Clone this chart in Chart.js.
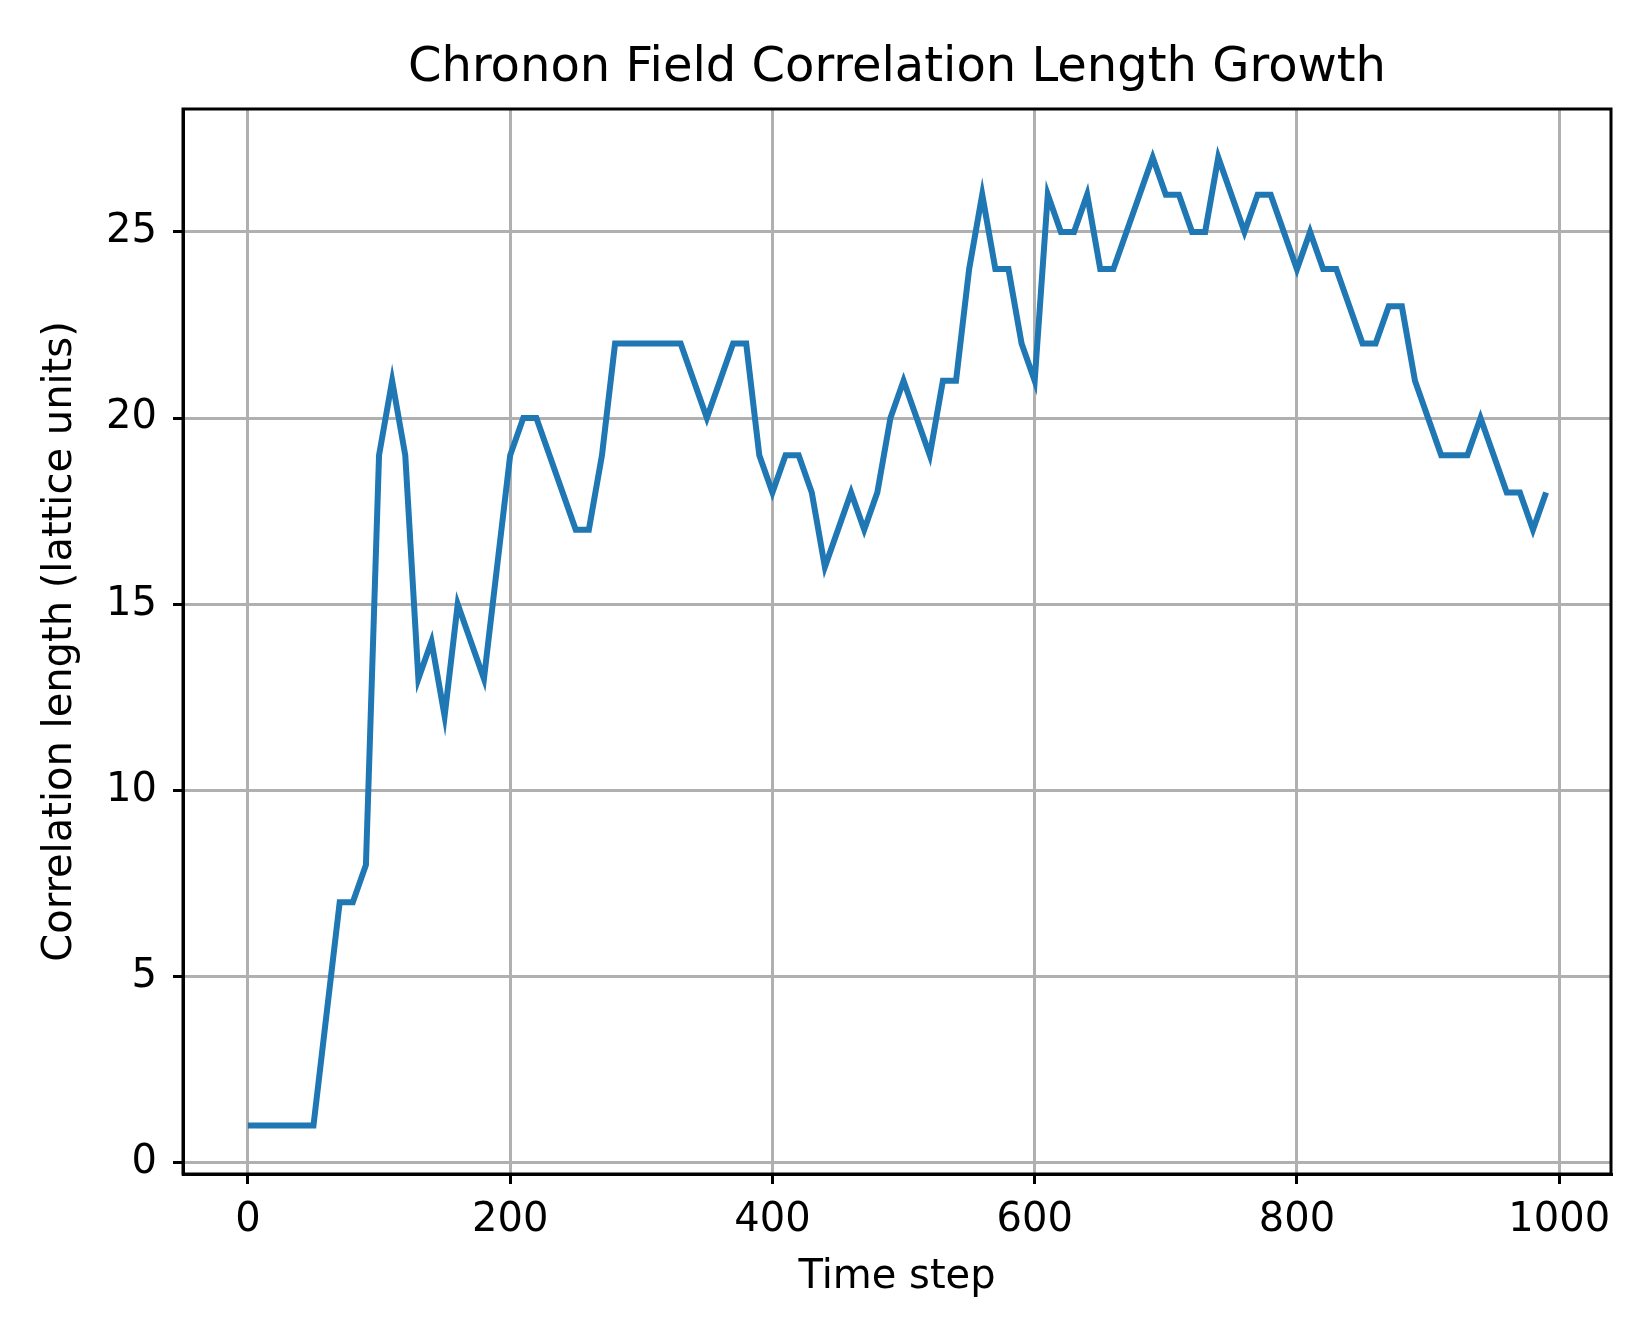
<!DOCTYPE html>
<html>
<head>
<meta charset="utf-8">
<script src="https://cdn.jsdelivr.net/npm/chart.js@4.4.1/dist/chart.umd.min.js"></script>
<style>
  html, body { margin: 0; padding: 0; background: #ffffff; }
  #wrap { width: 1648px; height: 1328px; }
</style>
</head>
<body>
<div id="wrap"><canvas id="c" width="1648" height="1328"></canvas></div>
<script>
const timeSteps = [0,10,20,30,40,50,60,70,80,90,100,110,120,130,140,150,160,170,180,190,
  200,210,220,230,240,250,260,270,280,290,300,310,320,330,340,350,360,370,380,390,
  400,410,420,430,440,450,460,470,480,490,500,510,520,530,540,550,560,570,580,590,
  600,610,620,630,640,650,660,670,680,690,700,710,720,730,740,750,760,770,780,790,
  800,810,820,830,840,850,860,870,880,890,900,910,920,930,940,950,960,970,980,990];
const correlationLength = [1,1,1,1,1,1,4,7,7,8,19,21,19,13,14,12,15,14,13,16,
  19,20,20,19,18,17,17,19,22,22,22,22,22,22,21,20,21,22,22,19,
  18,19,19,18,16,17,18,17,18,20,21,20,19,21,21,24,26,24,24,22,
  21,26,25,25,26,24,24,25,26,27,26,26,25,25,27,26,25,26,26,25,
  24,25,24,24,23,22,22,23,23,21,20,19,19,19,20,19,18,18,17,18];
const xTicks = [0,200,400,600,800,1000];
const yTicks = [0,5,10,15,20,25];

const titleText = 'Chronon Field Correlation Length Growth';
const xLabel = 'Time step';
const yLabel = 'Correlation length (lattice units)';

const points = timeSteps.map((t, i) => ({x: t, y: correlationLength[i]}));

const FONT = 'DejaVu Sans';

const frame = {
  id: 'frame',
  afterLayout(chart) {
    // centre the title over the axes, as the reference does
    const tb = chart.titleBlock;
    if (tb) { tb.left = chart.chartArea.left; tb.right = chart.chartArea.right; }
  },
  afterDatasetsDraw(chart) {
    const {ctx, chartArea: a} = chart;
    ctx.save();
    ctx.strokeStyle = '#000';
    ctx.lineWidth = 3;
    ctx.strokeRect(a.left, a.top, a.right - a.left, a.bottom - a.top);
    ctx.restore();
  }
};

new Chart(document.getElementById('c'), {
  type: 'line',
  data: {
    datasets: [{
      data: points,
      borderColor: '#1f77b4',
      borderWidth: 6,
      pointRadius: 0,
      tension: 0,
      fill: false
    }]
  },
  options: {
    responsive: false,
    devicePixelRatio: 1,
    animation: false,
    layout: { padding: { top: 0, right: 37, bottom: 0, left: 0 } },
    plugins: {
      legend: { display: false },
      tooltip: { enabled: false },
      title: {
        display: true,
        text: titleText,
        color: '#000',
        font: { family: FONT, size: 48, weight: 'normal', lineHeight: 1.2 },
        padding: { top: 40, bottom: 11.4 }
      }
    },
    scales: {
      x: {
        type: 'linear',
        min: -49.5,
        max: 1039.5,
        afterBuildTicks: (s) => { s.ticks = xTicks.map(v => ({value: v})); },
        afterFit: (s) => { s.height = 154; },
        grid: { color: '#b0b0b0', lineWidth: 3, tickColor: '#000', tickLength: 10, tickWidth: 3 },
        border: { display: true, color: '#000', width: 3 },
        ticks: { color: '#000', font: { family: FONT, size: 40 }, padding: 13, maxRotation: 0,
                 callback: (v) => String(v) },
        title: { display: true, text: xLabel, color: '#000', font: { family: FONT, size: 40 }, padding: { top: 0, bottom: 26 } }
      },
      y: {
        type: 'linear',
        min: -0.3,
        max: 28.3,
        afterBuildTicks: (s) => { s.ticks = yTicks.map(v => ({value: v})); },
        afterFit: (s) => { s.width = 183; },
        grid: { color: '#b0b0b0', lineWidth: 3, tickColor: '#000', tickLength: 10, tickWidth: 3 },
        border: { display: true, color: '#000', width: 3 },
        ticks: { color: '#000', font: { family: FONT, size: 40 }, padding: 16,
                 callback: (v) => String(v) },
        title: { display: true, text: yLabel, color: '#000', font: { family: FONT, size: 40 }, padding: { top: 37, bottom: 0 } }
      }
    }
  },
  plugins: [frame]
});
</script>
</body>
</html>
